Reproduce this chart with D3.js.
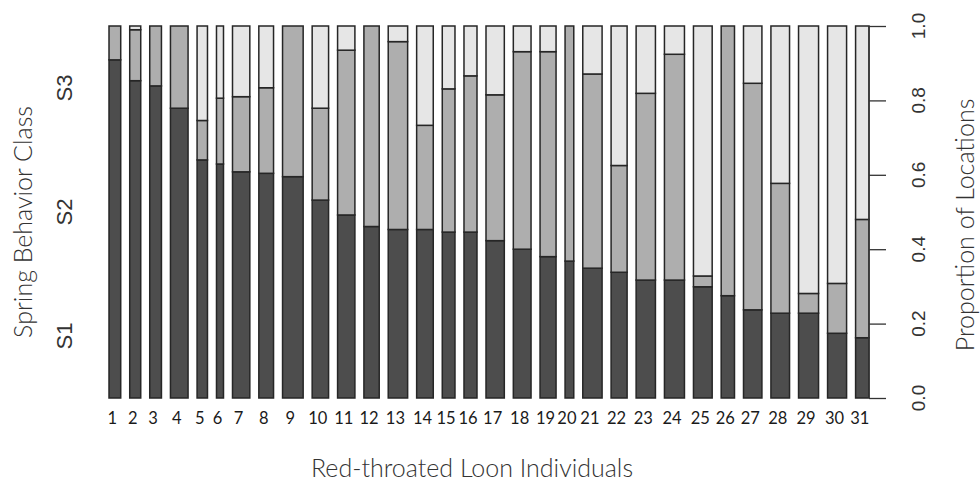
<!DOCTYPE html>
<html>
<head>
<meta charset="utf-8">
<script src="https://cdn.jsdelivr.net/npm/d3@7"></script>
<style>
  body { margin: 0; background: #fff; }
  svg { display: block; }
</style>
</head>
<body>
<svg id="chart" width="980" height="481"></svg>
<script>
// individuals 1..31
const individuals = d3.range(1, 32).map(String);

// relative bar widths (spineplot style, width ~ number of locations)
const widths = [11.7, 11, 11.7, 17.6, 10.4, 7, 17.3, 14.7, 20.6, 16.4, 17.3,
  15.3, 19.4, 16.6, 12.7, 13, 18.3, 17.7, 16, 8.7, 19.3,
  16, 19.3, 20, 18.7, 13.3, 18.4, 18.6, 20, 19, 13.4];

// proportion of locations in each spring behavior class
const s1 = [0.909, 0.853, 0.839, 0.779, 0.640, 0.629, 0.608, 0.604, 0.595, 0.532, 0.492,
  0.461, 0.453, 0.453, 0.446, 0.446, 0.423, 0.400, 0.380, 0.368, 0.349,
  0.338, 0.317, 0.317, 0.299, 0.275, 0.237, 0.228, 0.228, 0.174, 0.162];
const s2 = [0.091, 0.137, 0.161, 0.221, 0.106, 0.177, 0.202, 0.230, 0.405, 0.247, 0.443,
  0.539, 0.505, 0.280, 0.385, 0.420, 0.392, 0.531, 0.551, 0.632, 0.522,
  0.287, 0.502, 0.607, 0.029, 0.725, 0.609, 0.349, 0.053, 0.134, 0.318];
const s3 = [0, 0.010, 0, 0, 0.254, 0.194, 0.190, 0.166, 0, 0.221, 0.065,
  0, 0.042, 0.267, 0.169, 0.134, 0.185, 0.069, 0.069, 0, 0.129,
  0.375, 0.181, 0.076, 0.672, 0, 0.154, 0.423, 0.719, 0.692, 0.520];

const classes = ["S1", "S2", "S3"];
const classColors = ["#4D4D4D", "#AEAEAE", "#E6E6E6"];
const yTicks = [0, 0.2, 0.4, 0.6, 0.8, 1.0];
const gap = 9;

const svg = d3.select("#chart");
const titleFont = "Lato, 'Open Sans', sans-serif";
const axisFont = "'Liberation Sans', Arial, sans-serif";

// bar layout: constant gap, variable width
let pos = [];
let cum = 0;
widths.forEach((w, i) => {
  const x0 = cum + gap;
  pos.push({ id: individuals[i], x0: x0, x1: x0 + w, vals: [s1[i], s2[i], s3[i]] });
  cum = x0 + w;
});

const x = d3.scaleLinear().domain([0, cum]).range([100, 869]);
const y = d3.scaleLinear().domain([0, 1]).range([398, 26]);

// stacked segments
const segs = [];
pos.forEach(p => {
  let base = 0;
  p.vals.forEach((v, k) => {
    segs.push({ p: p, k: k, lo: base, hi: base + v });
    base += v;
  });
});

svg.append("g")
  .selectAll("rect")
  .data(segs)
  .join("rect")
  .attr("x", d => x(d.p.x0))
  .attr("width", d => x(d.p.x1) - x(d.p.x0))
  .attr("y", d => y(d.hi))
  .attr("height", d => y(d.lo) - y(d.hi))
  .attr("fill", d => classColors[d.k])
  .attr("stroke", "#262626")
  .attr("stroke-width", 1.5);

// individual labels under bars
svg.append("g")
  .selectAll("text")
  .data(pos)
  .join("text")
  .attr("x", d => x((d.x0 + d.x1) / 2) - 2.5)
  .attr("y", 424)
  .attr("text-anchor", "middle")
  .attr("font-family", titleFont)
  .attr("font-size", 16.5)
  .attr("fill", "#1a1a1a")
  .text(d => d.id);

// right axis
const axis = svg.append("g")
  .attr("transform", "translate(869,0)")
  .call(d3.axisRight(y).tickValues(yTicks).tickSize(17).tickFormat(""));
axis.select(".domain").attr("stroke", "#333").attr("stroke-width", 1.3).attr("d", `M0,${y(0)}V${y(1)}`);
axis.selectAll(".tick line").attr("stroke", "#333").attr("stroke-width", 1.3);

svg.append("g")
  .selectAll("text")
  .data(yTicks)
  .join("text")
  .attr("transform", d => `translate(925,${y(d)}) rotate(-90)`)
  .attr("text-anchor", "middle")
  .attr("font-family", axisFont)
  .attr("font-size", 19)
  .attr("fill", "#333")
  .text(d3.format(".1f"));

// left class labels at middle of each third
svg.append("g")
  .selectAll("text")
  .data(classes)
  .join("text")
  .attr("transform", (d, i) => `translate(72,${y((i + 0.5) / 3)}) rotate(-90)`)
  .attr("text-anchor", "middle")
  .attr("font-family", axisFont)
  .attr("font-size", 22)
  .attr("fill", "#333")
  .text(d => d);

// axis titles
svg.append("text")
  .attr("transform", "translate(32,222) rotate(-90)")
  .attr("text-anchor", "middle")
  .attr("font-family", titleFont)
  .attr("font-weight", 300)
  .attr("font-size", 25)
  .attr("fill", "#333")
  .text("Spring Behavior Class");

svg.append("text")
  .attr("transform", "translate(974,225) rotate(-90)")
  .attr("text-anchor", "middle")
  .attr("font-family", titleFont)
  .attr("font-weight", 300)
  .attr("font-size", 25)
  .attr("fill", "#333")
  .text("Proportion of Locations");

svg.append("text")
  .attr("x", 472)
  .attr("y", 477)
  .attr("text-anchor", "middle")
  .attr("font-family", titleFont)
  .attr("font-weight", 300)
  .attr("font-size", 25)
  .attr("fill", "#333")
  .text("Red-throated Loon Individuals");
</script>
</body>
</html>
